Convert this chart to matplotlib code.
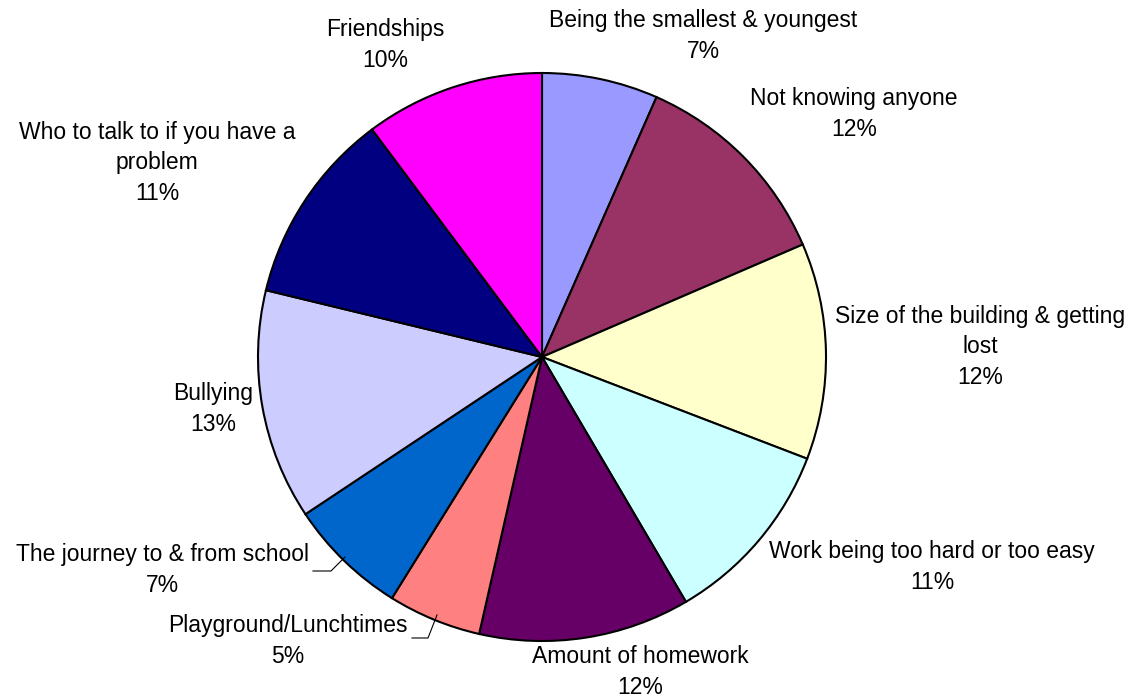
import matplotlib.pyplot as plt

# Worries about starting secondary school (share of responses, %)
topics = ['Being the smallest & youngest', 'Not knowing anyone',
          'Size of the building & getting\nlost', 'Work being too hard or too easy',
          'Amount of homework', 'Playground/Lunchtimes',
          'The journey to & from school', 'Bullying',
          'Who to talk to if you have a\nproblem', 'Friendships']
shares = [6.6, 11.9, 12.3, 10.7, 12.0, 5.3, 6.8, 13.1, 11.0, 10.2]
colours = ['#9999FF', '#993366', '#FFFFCC', '#CCFFFF', '#660066',
           '#FF8080', '#0066CC', '#CCCCFF', '#000080', '#FF00FF']

# label centres in pixels (x, y from top)
label_px = [(703, 36), (854, 114), (980, 347), (932, 567), (640, 672),
            (288, 641), (162, 570), (213, 409), (157, 163), (385, 45)]

# leader lines for the two small slices (pixels)
leaders = {5: [(437, 615), (428, 638), (412, 638)],
           6: [(345, 557), (331, 571), (313, 571)]}

W, H = 1133, 700
cx, cy, r = 542, 357, 284


def to_data(px, py):
    return (px - cx) / r, (cy - py) / r


fig = plt.figure(figsize=(W / 100, H / 100), dpi=100)
ax = fig.add_axes([0, 0, 1, 1])

ax.pie(shares, colors=colours, startangle=90, counterclock=False,
       radius=1.0, wedgeprops=dict(edgecolor='black', linewidth=1.5))

# pie() resets the view, so fix the limits afterwards
ax.set_aspect('auto')
ax.set_xlim(-cx / r, (W - cx) / r)
ax.set_ylim(-(H - cy) / r, cy / r)
ax.axis('off')

for i, name in enumerate(topics):
    x, y = to_data(*label_px[i])
    ax.text(x, y, '{}\n{:.0f}%'.format(name, shares[i]), ha='center',
            va='center', fontsize=16.5, family='Liberation Sans',
            linespacing=1.4, color='black')

for pts in leaders.values():
    xs, ys = zip(*[to_data(px, py) for px, py in pts])
    ax.plot(xs, ys, color='black', linewidth=0.8)

fig.savefig('out.png', dpi=100, facecolor='white')
